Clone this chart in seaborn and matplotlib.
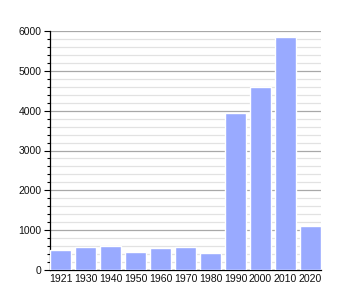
import matplotlib
matplotlib.use("Agg")
import matplotlib.pyplot as plt
import seaborn as sns
import pandas as pd
from matplotlib.ticker import MultipleLocator

years = ["1921", "1930", "1940", "1950", "1960", "1970", "1980", "1990", "2000", "2010", "2020"]
population = [500, 585, 600, 452, 550, 585, 427, 3940, 4600, 5860, 1105]

df = pd.DataFrame({"year": years, "pop": population})

sns.set_style("white")
plt.rcParams["font.family"] = ["Liberation Sans", "DejaVu Sans"]

fig = plt.figure(figsize=(3.5, 3.0), dpi=100)
ax = fig.add_axes([50/350, 30/300, 271/350, 239/300])

sns.barplot(data=df, x="year", y="pop", color="#99aaff", saturation=1,
            width=0.83, ax=ax, zorder=3)

ax.set_ylim(0, 6000)
ax.set_xlim(-0.42, 10.42)
ax.yaxis.set_major_locator(MultipleLocator(1000))
ax.yaxis.set_minor_locator(MultipleLocator(200))
ax.grid(axis="y", which="major", color="#a8a8a8", linewidth=0.9, zorder=0)
ax.grid(axis="y", which="minor", color="#e2e2e2", linewidth=0.9, zorder=0)
ax.set_axisbelow(True)

for s in ["top", "right"]:
    ax.spines[s].set_visible(False)
ax.spines["left"].set_color("black")
ax.spines["bottom"].set_color("black")
ax.spines["left"].set_linewidth(0.9)
ax.spines["bottom"].set_linewidth(0.9)

ax.tick_params(axis="y", which="major", length=4, width=0.8, color="black",
               labelsize=7.5, pad=2, left=True, labelcolor="#111111")
ax.tick_params(axis="y", which="minor", length=2.5, width=0.8, color="black", left=True)
ax.tick_params(axis="x", length=0, labelsize=7.6, pad=3, labelcolor="#111111")
ax.set_xlabel("")
ax.set_ylabel("")

fig.savefig("out.png", dpi=100)
